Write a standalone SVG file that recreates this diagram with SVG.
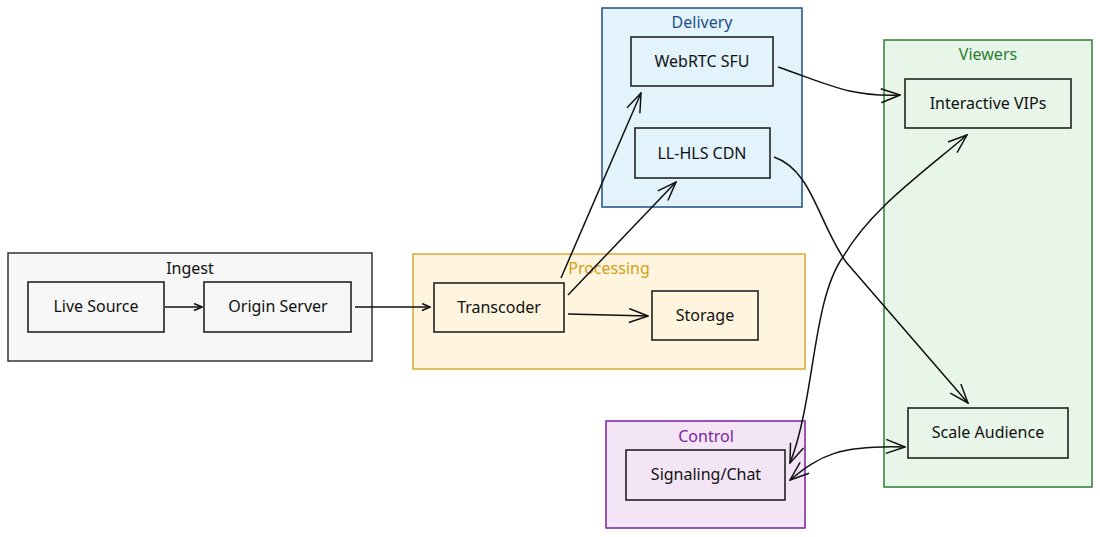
<svg xmlns="http://www.w3.org/2000/svg" width="1100" height="537" viewBox="0 0 1100 537">
<defs>
<style>
text{font-family:"Noto Sans","Open Sans","DejaVu Sans",sans-serif;font-size:16px;text-anchor:middle;dominant-baseline:central}
.node{stroke:#222;stroke-width:1.6}
.grp{stroke-width:1.5}
.edge{fill:none;stroke:#111;stroke-width:1.5}
.lbl{fill:#111}
</style>
<marker id="big" viewBox="0 0 21 16" markerWidth="21" markerHeight="16" refX="20" refY="8" orient="auto-start-reverse" markerUnits="userSpaceOnUse">
<path d="M1,1 L20,8 L1,15" fill="none" stroke="#111" stroke-width="1.5"/>
</marker>
<marker id="small" viewBox="0 0 10 9" markerWidth="10" markerHeight="9" refX="9" refY="4.5" orient="auto" markerUnits="userSpaceOnUse">
<path d="M1,1 L9,4.5 L1,8" fill="none" stroke="#111" stroke-width="1.5"/>
</marker>
</defs>
<rect width="1100" height="537" fill="#ffffff"/>

<g id="ingest">
<rect class="grp" x="8" y="253" width="364" height="108" fill="#f7f7f7" stroke="#333"/>
<text x="190" y="268" fill="#111">Ingest</text>
</g>
<g id="processing">
<rect class="grp" x="413" y="254" width="392" height="115" fill="#fff4de" stroke="#d9aa30"/>
<text x="609" y="268" fill="#d4a017">Processing</text>
</g>
<g id="delivery">
<rect class="grp" x="602" y="8" width="200" height="199" fill="#e2f3fc" stroke="#1c4e89"/>
<text x="702" y="22" fill="#1c4e89">Delivery</text>
</g>
<g id="viewers">
<rect class="grp" x="884" y="40" width="208" height="447" fill="#e8f5e9" stroke="#2e7d32"/>
<text x="988" y="54" fill="#2e7d32">Viewers</text>
</g>
<g id="control">
<rect class="grp" x="606" y="421" width="199" height="107" fill="#f3e5f5" stroke="#7b1fa2"/>
<text x="706" y="436" fill="#7b1fa2">Control</text>
</g>

<g id="live-source">
<rect class="node" x="28" y="282" width="136" height="50" fill="#f7f7f7"/>
<text class="lbl" x="96" y="306">Live Source</text>
</g>
<g id="origin-server">
<rect class="node" x="204" y="282" width="147" height="50" fill="#f7f7f7"/>
<text class="lbl" x="278" y="306">Origin Server</text>
</g>
<g id="transcoder">
<rect class="node" x="434" y="283" width="130" height="49" fill="#fff4de"/>
<text class="lbl" x="499" y="307">Transcoder</text>
</g>
<g id="storage">
<rect class="node" x="652" y="291" width="106" height="49" fill="#fff4de"/>
<text class="lbl" x="705" y="315">Storage</text>
</g>
<g id="webrtc-sfu">
<rect class="node" x="631" y="37" width="142" height="49" fill="#e2f3fc"/>
<text class="lbl" x="702" y="61">WebRTC SFU</text>
</g>
<g id="ll-hls-cdn">
<rect class="node" x="635" y="128" width="135" height="50" fill="#e2f3fc"/>
<text class="lbl" x="702" y="153">LL-HLS CDN</text>
</g>
<g id="interactive-vips">
<rect class="node" x="905" y="79" width="166" height="49" fill="#e8f5e9"/>
<text class="lbl" x="988" y="103">Interactive VIPs</text>
</g>
<g id="scale-audience">
<rect class="node" x="908" y="408" width="160" height="50" fill="#e8f5e9"/>
<text class="lbl" x="988" y="432">Scale Audience</text>
</g>
<g id="signaling-chat">
<rect class="node" x="626" y="450" width="159" height="50" fill="#f3e5f5"/>
<text class="lbl" x="706" y="474">Signaling/Chat</text>
</g>

<g id="connectors">
<path class="edge" d="M165,307 L202,307" marker-end="url(#small)"/>
<path class="edge" d="M355,307 L430,307" marker-end="url(#small)"/>
<path class="edge" d="M568,314 L648,316" marker-end="url(#big)"/>
<path class="edge" d="M561,278 L641,93" marker-end="url(#big)"/>
<path class="edge" d="M568,295 L676,182" marker-end="url(#big)"/>
<path class="edge" d="M778,67 C830,85 850,97 900,95" marker-end="url(#big)"/>
<path class="edge" d="M774,157 C812,170 818,222 846,262 L968,403" marker-end="url(#big)"/>
<path class="edge" d="M790,463 C815,400 812,300 843,257 C870,210 920,175 967,135" marker-start="url(#big)" marker-end="url(#big)"/>
<path class="edge" d="M790,480 C820,455 840,445 905,447" marker-start="url(#big)" marker-end="url(#big)"/>
</g>
</svg>
